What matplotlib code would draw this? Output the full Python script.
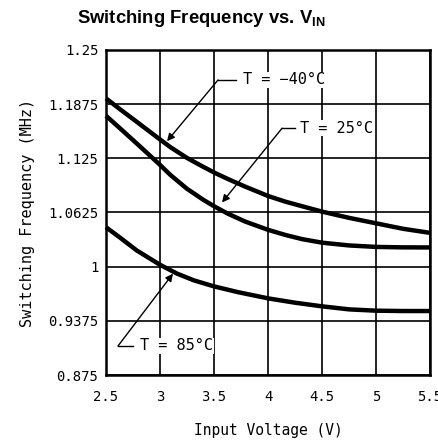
import matplotlib
matplotlib.use("Agg")
import matplotlib.pyplot as plt

plt.rcParams["mathtext.fontset"] = "custom"
plt.rcParams["mathtext.rm"] = "Liberation Sans"
plt.rcParams["mathtext.bf"] = "Liberation Sans:bold"

# Data (input voltage in V, frequency in MHz)
vin_m40 = [2.5, 2.63, 2.785, 2.986, 3.094, 3.248, 3.402, 3.51, 3.63, 3.785, 4.0, 4.16, 4.315, 4.5, 4.75, 5.0, 5.25, 5.5]
f_m40 = [1.194, 1.1815, 1.167, 1.148, 1.138, 1.1255, 1.115, 1.108, 1.101, 1.0925, 1.0815, 1.075, 1.0697, 1.0635, 1.0563, 1.050, 1.0437, 1.039]

vin_25 = [2.5, 2.63, 2.785, 2.986, 3.094, 3.248, 3.402, 3.51, 3.63, 3.785, 4.0, 4.16, 4.315, 4.5, 4.75, 5.0, 5.25, 5.5]
f_25 = [1.174, 1.1595, 1.142, 1.119, 1.106, 1.090, 1.077, 1.069, 1.061, 1.0522, 1.0425, 1.0366, 1.0318, 1.0277, 1.0245, 1.0228, 1.0223, 1.0222]

vin_85 = [2.5, 2.63, 2.785, 3.0, 3.16, 3.315, 3.5, 3.72, 4.0, 4.25, 4.5, 4.75, 5.0, 5.25, 5.5]
f_85 = [1.0455, 1.0335, 1.0187, 1.0022, 0.9919, 0.9842, 0.9773, 0.9707, 0.9635, 0.9585, 0.9543, 0.9508, 0.9493, 0.9489, 0.9489]

xticks = [2.5, 3, 3.5, 4, 4.5, 5, 5.5]
xticklabels = ["2.5", "3", "3.5", "4", "4.5", "5", "5.5"]
yticks = [0.875, 0.9375, 1.0, 1.0625, 1.125, 1.1875, 1.25]
yticklabels = ["0.875", "0.9375", "1", "1.0625", "1.125", "1.1875", "1.25"]

labels = ["T = \u221240\u00b0C", "T = 25\u00b0C", "T = 85\u00b0C"]
# annotation anchors (data coords): text pos, elbow, arrow tip
label_text_xy = [(3.77, 1.2153), (4.296, 1.1597), (2.815, 0.9086)]
label_elbow_xy = [(3.537, 1.2153), (4.13, 1.1597), (2.611, 0.9086)]
label_tip_xy = [(3.065, 1.1447), (3.574, 1.074), (3.12, 0.992)]

mono = "DejaVu Sans Mono"

fig = plt.figure(figsize=(4.38, 4.45), dpi=100)
ax = fig.add_axes([0.242, 0.157, 0.740, 0.731])

for xs, ys in ((vin_m40, f_m40), (vin_25, f_25), (vin_85, f_85)):
    ax.plot(xs, ys, color="black", lw=3.2, solid_capstyle="butt",
            solid_joinstyle="round", zorder=3, clip_on=False)

ax.set_xlim(2.5, 5.5)
ax.set_ylim(0.875, 1.25)
ax.set_xticks(xticks)
ax.set_xticklabels(xticklabels, fontsize=10, family=mono)
ax.set_yticks(yticks)
ax.set_yticklabels(yticklabels, fontsize=10, family=mono)
ax.tick_params(axis="y", length=0, pad=5.5)
ax.tick_params(axis="x", length=0, pad=11)
ax.grid(True, color="black", lw=1.2)
for sp in ax.spines.values():
    sp.set_linewidth(1.8)

ax.set_xlabel("Input Voltage (V)", fontsize=10.5, family=mono)
ax.set_ylabel("Switching Frequency (MHz)", fontsize=11, family=mono)
ax.xaxis.set_label_coords(0.5, -0.148)
ax.yaxis.set_label_coords(-0.219, 0.5)

fig.text(0.46, 0.958, r"Switching Frequency vs. V$_{\mathbf{IN}}$", ha="center", va="center",
         fontsize=13.3, fontweight="bold", family="Liberation Sans")

for lab, txy, exy, pxy in zip(labels, label_text_xy, label_elbow_xy, label_tip_xy):
    ax.text(txy[0], txy[1], lab, fontsize=11, family=mono, va="center", ha="left", zorder=5,
            bbox=dict(facecolor="white", edgecolor="none", pad=0.5))
    ax.plot([exy[0], exy[0] + (txy[0] - exy[0]) * 0.7], [exy[1], exy[1]], color="black", lw=1.0, zorder=4)
    ax.annotate("", xy=pxy, xytext=exy,
                arrowprops=dict(arrowstyle="-|>", color="black", lw=1.0, mutation_scale=11,
                                shrinkA=0, shrinkB=0), zorder=4)

fig.savefig("out.png", dpi=100)
